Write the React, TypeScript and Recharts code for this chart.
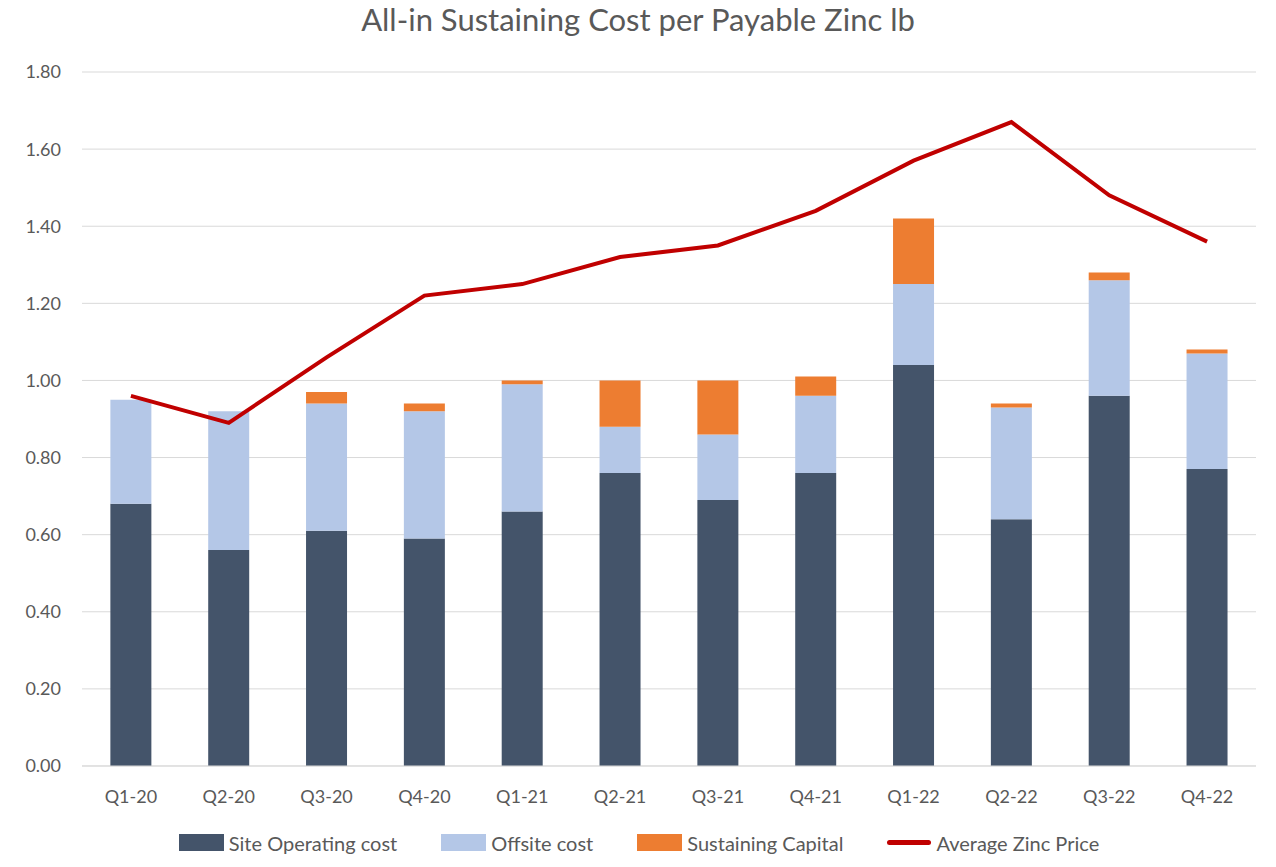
import { ComposedChart, Bar, Line, XAxis, YAxis, CartesianGrid, Legend } from 'recharts';

const quarters = ['Q1-20', 'Q2-20', 'Q3-20', 'Q4-20', 'Q1-21', 'Q2-21', 'Q3-21', 'Q4-21', 'Q1-22', 'Q2-22', 'Q3-22', 'Q4-22'];
const siteOperating = [0.68, 0.56, 0.61, 0.59, 0.66, 0.76, 0.69, 0.76, 1.04, 0.64, 0.96, 0.77];
const offsite = [0.27, 0.36, 0.33, 0.33, 0.33, 0.12, 0.17, 0.2, 0.21, 0.29, 0.3, 0.3];
const sustainingCapital = [0, 0, 0.03, 0.02, 0.01, 0.12, 0.14, 0.05, 0.17, 0.01, 0.02, 0.01];
const zincPrice = [0.96, 0.89, 1.06, 1.22, 1.25, 1.32, 1.35, 1.44, 1.57, 1.67, 1.48, 1.36];
const yTicks = [0, 0.2, 0.4, 0.6, 0.8, 1.0, 1.2, 1.4, 1.6, 1.8];
const legendOrder = ['Site Operating cost', 'Offsite cost', 'Sustaining Capital', 'Average Zinc Price'];

const data = quarters.map((q, i) => ({
  name: q,
  site: siteOperating[i],
  offsite: offsite[i],
  capital: sustainingCapital[i],
  price: zincPrice[i],
}));

const FONT = 'Lato, "Open Sans", sans-serif';
const TEXT = '#595959';

// keeps the Excel-style order: bars first, then the line
const renderLegend = (props: any) => {
  const items = [...(props.payload || [])].sort(
    (a: any, b: any) => legendOrder.indexOf(a.value) - legendOrder.indexOf(b.value)
  );
  return (
    <div style={{ display: 'flex', justifyContent: 'center', alignItems: 'center', gap: 44, height: 47, paddingTop: 9, paddingLeft: 22, fontFamily: FONT, fontSize: 20, color: TEXT }}>
      {items.map((item: any) => (
        <div key={item.value} style={{ display: 'flex', alignItems: 'center' }}>
          {item.type === 'plainline' ? (
            <span style={{ width: 44, height: 5, borderRadius: 3, background: item.color, marginRight: 5 }} />
          ) : (
            <span style={{ width: 45, height: 17, background: item.color, marginRight: 5 }} />
          )}
          <span>{item.value}</span>
        </div>
      ))}
    </div>
  );
};

const App = () => {
  return (
    <div style={{ position: 'absolute', left: 0, top: 0, width: 1276, height: 867, background: '#fff', fontFamily: FONT }}>
      <div style={{ position: 'absolute', top: 0, width: 1276, textAlign: 'center', fontSize: 31, color: TEXT }}>
        All-in Sustaining Cost per Payable Zinc lb
      </div>
      <ComposedChart
        width={1276}
        height={867}
        data={data}
        margin={{ top: 72, right: 20, left: 0, bottom: 10 }}
        barCategoryGap="29%"
      >
        <CartesianGrid vertical={false} stroke="#D9D9D9" />
        <XAxis
          dataKey="name"
          tick={{ fill: TEXT, fontSize: 18, fontFamily: FONT }}
          tickLine={false}
          axisLine={{ stroke: '#D9D9D9' }}
          tickMargin={18}
          height={44}
        />
        <YAxis
          domain={[0, 1.8]}
          ticks={yTicks}
          tickFormatter={(v: number) => v.toFixed(2)}
          tick={{ fill: TEXT, fontSize: 18, fontFamily: FONT }}
          axisLine={false}
          tickLine={false}
          width={82}
          tickMargin={15}
        />
        <Legend verticalAlign="bottom" height={47} content={renderLegend} />
        <Bar dataKey="site" stackId="a" fill="#44546A" name="Site Operating cost" legendType="square" isAnimationActive={false} />
        <Bar dataKey="offsite" stackId="a" fill="#B4C7E7" name="Offsite cost" legendType="square" isAnimationActive={false} />
        <Bar dataKey="capital" stackId="a" fill="#ED7D31" name="Sustaining Capital" legendType="square" isAnimationActive={false} />
        <Line
          dataKey="price"
          type="linear"
          stroke="#C00000"
          strokeWidth={4}
          dot={false}
          name="Average Zinc Price"
          legendType="plainline"
          isAnimationActive={false}
        />
      </ComposedChart>
    </div>
  );
};

export default App;
